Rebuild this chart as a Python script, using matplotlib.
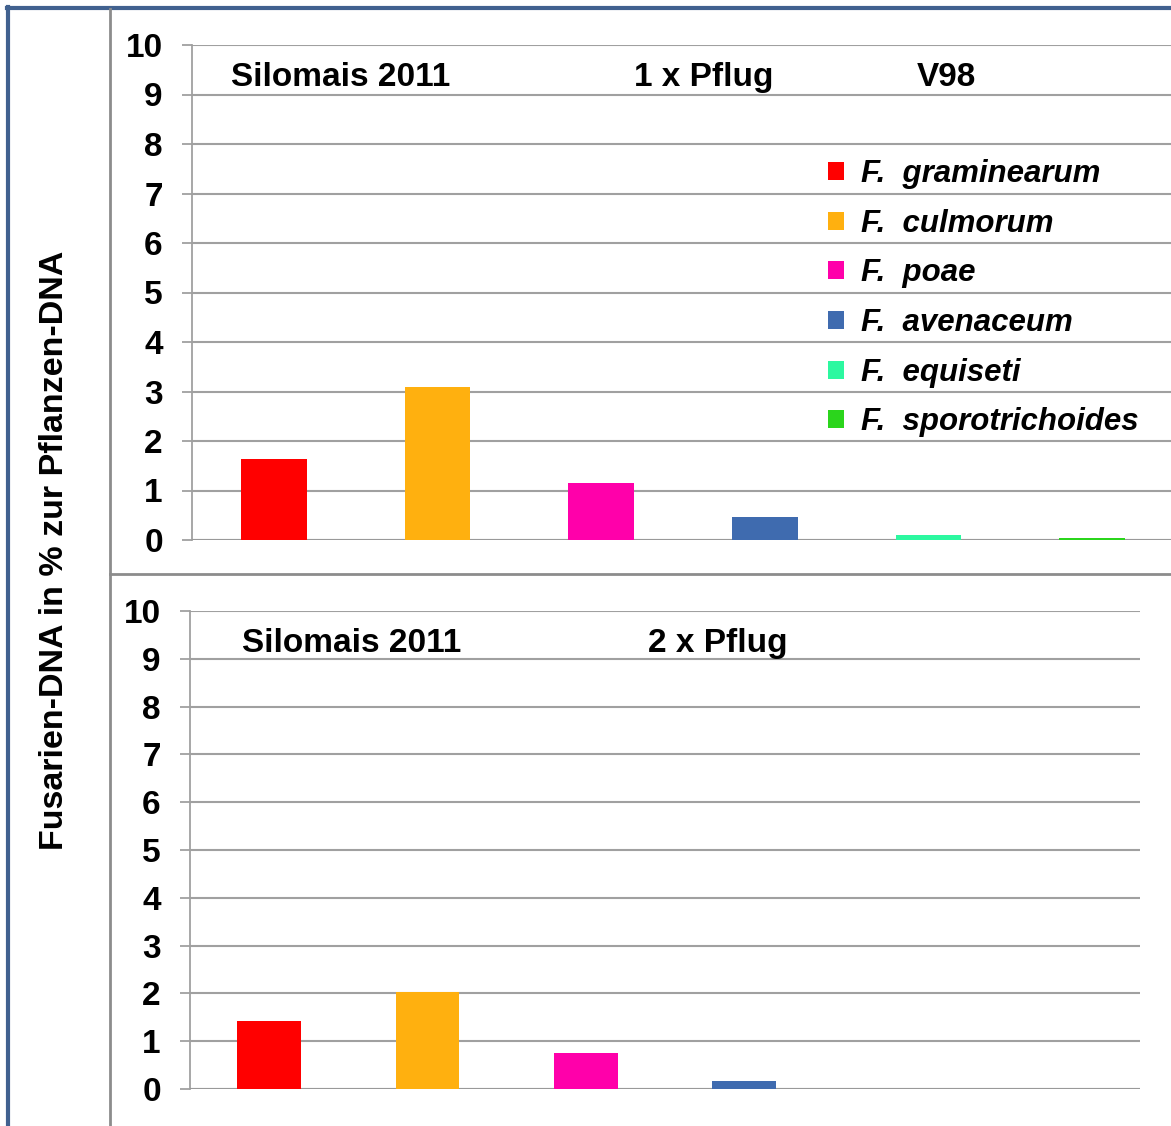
import matplotlib.pyplot as plt
from matplotlib.lines import Line2D
from matplotlib.patches import Patch

plt.rcParams['font.family'] = ['Liberation Sans', 'DejaVu Sans']

# Daten: Fusarien-DNA in % zur Pflanzen-DNA
arten = ['graminearum', 'culmorum', 'poae', 'avenaceum', 'equiseti', 'sporotrichoides']
farben = ['#FF0000', '#FFB00F', '#FF00AA', '#3F6BAF', '#2CF8A0', '#2BD51C']
pflug_1x = [1.64, 3.09, 1.15, 0.46, 0.10, 0.05]
pflug_2x = [1.42, 2.03, 0.75, 0.17, 0.0, 0.0]

W, H = 1171, 1126
fig = plt.figure(figsize=(W / 100, H / 100), dpi=100)


def box(l, t, r, b):
    return [l / W, 1 - b / H, (r - l) / W, (b - t) / H]


def panel(ax, werte):
    x = range(len(werte))
    ax.bar(x, werte, width=0.4, color=farben, zorder=5)
    ax.set_xlim(-0.5, len(werte) - 0.5)
    ax.set_ylim(0, 10)
    ax.set_yticks(range(11))
    ax.set_xticks([])
    ax.grid(axis='y', color='#A0A0A0', linewidth=1.5, zorder=0)
    for s in ['top', 'right', 'bottom']:
        ax.spines[s].set_visible(False)
    ax.spines['left'].set_color('#A0A0A0')
    ax.spines['left'].set_linewidth(1.3)
    ax.axhline(0, color='#999999', linewidth=2.2, zorder=4)
    ax.tick_params(axis='y', length=7, width=1.3, color='#A0A0A0', pad=14,
                   labelsize=24)
    for t in ax.get_yticklabels():
        t.set_fontweight('bold')
    ax.patch.set_alpha(0)


ax1 = fig.add_axes(box(192, 45, 1174, 540))
panel(ax1, pflug_1x)
ax1.text(-0.26, 9.35, 'Silomais 2011', fontsize=24, fontweight='bold', va='center')
ax1.text(2.2, 9.35, '1 x Pflug', fontsize=24, fontweight='bold', va='center')
ax1.text(3.93, 9.35, 'V98', fontsize=24, fontweight='bold', va='center')

handles = [Patch(facecolor=c, edgecolor='none') for c in farben]
labels = ['F.  ' + a for a in arten]
ax1.legend(handles, labels, loc='upper left', bbox_to_anchor=(828 / W, 1 - 159 / H),
           bbox_transform=fig.transFigure, frameon=False,
           prop={'weight': 'bold', 'style': 'italic', 'size': 22.5},
           handlelength=0.5, handleheight=0.5, handletextpad=0.55,
           labelspacing=0.63, borderpad=0, borderaxespad=0)

ax2 = fig.add_axes(box(190, 611, 1140, 1089))
panel(ax2, pflug_2x)
ax2.text(-0.17, 9.32, 'Silomais 2011', fontsize=24, fontweight='bold', va='center')
ax2.text(2.39, 9.32, '2 x Pflug', fontsize=24, fontweight='bold', va='center')

fig.text(55 / W, 1 - 550 / H, 'Fusarien-DNA in % zur Pflanzen-DNA', rotation=90,
         fontsize=24.5, fontweight='bold', ha='center', va='center')

# Rahmen und Trennlinien
fig.add_artist(Line2D([8 / W, 8 / W], [0, 1 - 7 / H], color='#41618F', linewidth=3,
                      transform=fig.transFigure))
fig.add_artist(Line2D([7 / W, 1], [1 - 8 / H, 1 - 8 / H], color='#41618F', linewidth=3,
                      transform=fig.transFigure))
fig.add_artist(Line2D([110 / W, 110 / W], [0, 1 - 9 / H], color='#8C8C8C', linewidth=2,
                      transform=fig.transFigure))
fig.add_artist(Line2D([110 / W, 1], [1 - 574 / H, 1 - 574 / H], color='#8C8C8C',
                      linewidth=2, transform=fig.transFigure))

fig.savefig('out.png', dpi=100)
